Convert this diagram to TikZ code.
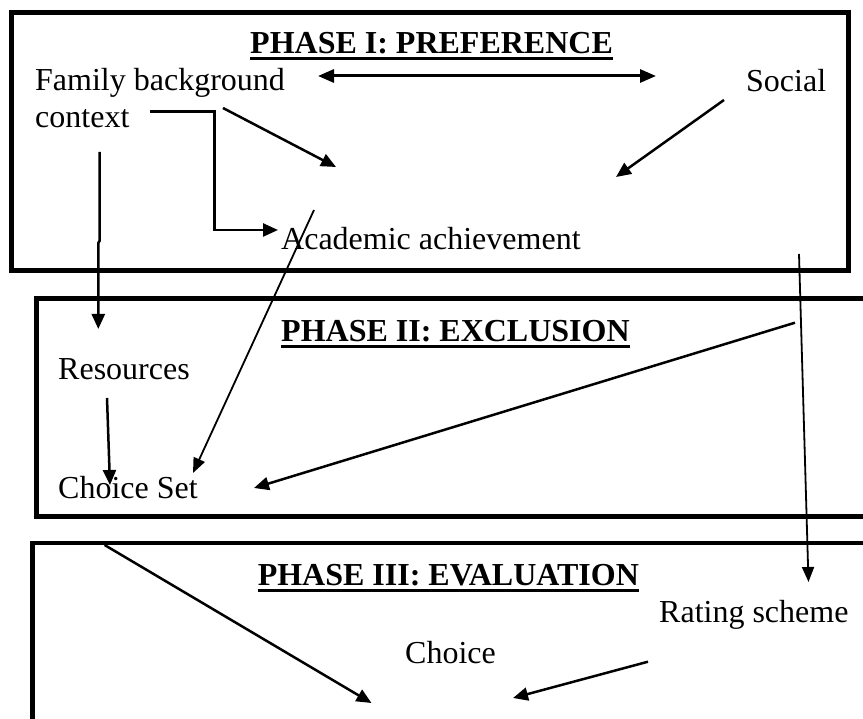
\documentclass[tikz,border=0pt]{standalone}
\usepackage{fontspec}
\setmainfont{Liberation Serif}
\usetikzlibrary{arrows.meta,calc}
\tikzset{
  phasebox/.style={line width=4.5pt},
  conn/.style={line width=2.5pt,-{Triangle[length=15pt,width=13pt]}},
  thinconn/.style={line width=1.8pt,-{Triangle[length=15pt,width=12pt]}},
  bothconn/.style={line width=3pt,{Triangle[length=16pt,width=13pt]}-{Triangle[length=16pt,width=13pt]}},
  lbl/.style={inner sep=0pt,anchor=base west,font=\fontsize{32}{38}\selectfont},
  ttl/.style={inner sep=0pt,anchor=base west,font=\fontsize{32}{38}\selectfont\bfseries},
  uline/.style={line width=3pt}
}
\begin{document}
\begin{tikzpicture}[x=1pt,y=-1pt]
\useasboundingbox (0,0) rectangle (863,719);
\clip (0,0) rectangle (863,719);
\fill[white] (0,0) rectangle (863,719);

% phase boxes
\draw[phasebox] (11.5,12.5) rectangle (848.5,270.5);
\draw[phasebox] (36.5,298.5) rectangle (900,516.5);
\draw[phasebox] (32.5,543) rectangle (900,780);

% titles
\node[ttl] (t1) at (250,53.3) {PHASE I: PREFERENCE};
\node[ttl] (t2) at (281,341.5) {PHASE II: EXCLUSION};
\node[ttl] (t3) at (257.6,585) {PHASE III: EVALUATION};
\foreach \t in {t1,t2,t3}{
  \draw[uline] ($(\t.base west)+(0,5.2)$) -- ($(\t.base east)+(0,5.2)$);
}

% labels
\node[lbl] (fam) at (35,91) {Family background};
\node[lbl] (ctx) at (35,128) {context};
\node[lbl] (soc) at (746,92) {Social};
\node[lbl] (acad) at (281,250) {Academic achievement};
\node[lbl] (res) at (58,380) {Resources};
\node[lbl] (cset) at (58,498) {Choice Set};
\node[lbl] (rate) at (659,622.7) {Rating scheme};
\node[lbl] (cho) at (405,663) {Choice};

% connector end points
\coordinate (dA) at (318,76);
\coordinate (dB) at (656,76);
\coordinate (e1) at (150,111.7);
\coordinate (e2) at (214.6,111.7);
\coordinate (e3) at (214.6,230);
\coordinate (e4) at (278,230);
\coordinate (f1) at (223,108);
\coordinate (f2) at (336,167);
\coordinate (s1) at (724,100);
\coordinate (s2) at (616,177);
\coordinate (a1) at (314,210);
\coordinate (a2) at (193,473);
\coordinate (c1) at (99.5,152);
\coordinate (c2) at (99.5,241);
\coordinate (c3) at (98.3,243);
\coordinate (c4) at (98.3,329);
\coordinate (r1) at (107,398);
\coordinate (r2) at (110,485);
\coordinate (g1) at (795,322.7);
\coordinate (g2) at (254,488);
\coordinate (v1) at (799,254);
\coordinate (v2) at (808.5,582);
\coordinate (h1) at (104.6,545);
\coordinate (h2) at (371.5,703);
\coordinate (k1) at (648,661.7);
\coordinate (k2) at (513,698);

% connectors
\draw[bothconn] (dA) -- (dB);
\draw[conn] (e1) -- (e2) -- (e3) -- (e4);
\draw[conn] (f1) -- (f2);
\draw[conn] (s1) -- (s2);
\draw[thinconn] (a1) -- (a2);
\draw[conn] (c1) -- (c2) -- (c3) -- (c4);
\draw[conn] (r1) -- (r2);
\draw[conn] (g1) -- (g2);
\draw[thinconn] (v1) -- (v2);
\draw[conn] (h1) -- (h2);
\draw[conn] (k1) -- (k2);
\end{tikzpicture}
\end{document}
